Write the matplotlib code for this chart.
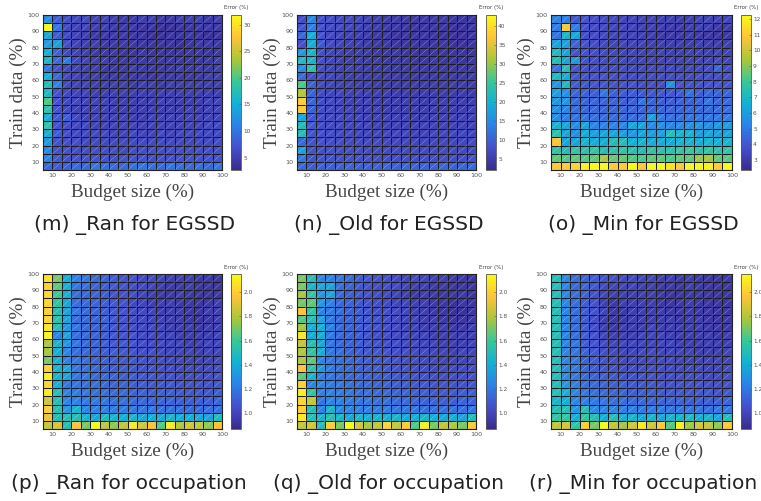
import numpy as np
import matplotlib
matplotlib.use("Agg")
import matplotlib.pyplot as plt
from matplotlib.colors import LinearSegmentedColormap, Normalize
from matplotlib.collections import LineCollection

# cell edges, in percent
budget_edges = np.arange(5, 101, 5)
train_edges = np.arange(5, 101, 5)
tick_vals = [10, 20, 30, 40, 50, 60, 70, 80, 90, 100]

# error (%) grids, rows listed from train 95-100 (top) down to 5-10 (bottom)
err_m = [
    [12, 8, 6.5, 6, 6, 5.5, 5.5, 5, 4.5, 4.5, 5, 5, 4.5, 4.5, 5, 5, 5, 4.5, 5],
    [31.8, 10, 6, 5.5, 5.5, 5, 5, 4.5, 4.5, 4.5, 4, 4, 3.5, 3.5, 4, 4, 4.5, 4.5, 4.5],
    [14, 8, 6, 5.5, 5, 4.5, 4.5, 4.5, 4.5, 4, 4, 3.5, 3.5, 4, 4, 4.5, 4, 3.5, 4],
    [13.5, 13.8, 6.5, 5.5, 5, 5, 4.5, 4.5, 4.5, 4.5, 4, 4, 4, 4, 3.5, 4, 4.5, 4.5, 4.5],
    [15, 8.5, 6, 5.5, 5, 4.5, 4.5, 4.5, 4, 4, 4.5, 4, 4, 4, 4, 4.5, 4.5, 4, 4.5],
    [16, 9, 10.5, 6, 5.5, 5, 5, 4.5, 4.5, 4.5, 4.5, 4.5, 4.5, 4.5, 4.5, 4.5, 4.5, 4.5, 5],
    [10, 7, 6, 5.5, 5, 5, 4.5, 4.5, 4.5, 5, 4.5, 4.5, 4.5, 4.5, 5, 4.5, 5, 4.5, 5],
    [15.2, 9, 6, 5.5, 5, 5, 4.5, 4.5, 4.5, 4.5, 4.5, 4, 4.5, 4.5, 4.5, 4.5, 4.5, 5, 5],
    [17, 11, 6, 5.5, 5.5, 5, 5, 5, 5, 4.5, 5, 5, 4.5, 5, 5, 5, 5, 5, 5],
    [16.5, 7, 6, 5.5, 5.5, 5, 5, 5, 5, 5, 5, 5, 5, 5, 5, 5, 5, 5, 5],
    [20, 7, 6, 6, 5.5, 5.5, 5.5, 5, 5, 5, 5, 5, 5.5, 5, 5, 5, 5, 5.5, 5.5],
    [18, 7, 6, 5.5, 5.5, 5.5, 5.5, 5, 5, 5, 5, 5, 5, 5, 5, 5.5, 5, 5.5, 5.5],
    [15, 7.5, 8, 6, 5.5, 5.5, 5.5, 5.5, 5.5, 5, 5, 5.5, 5.5, 5.5, 5.5, 5.5, 5.5, 5.5, 5.5],
    [18.5, 7, 6.5, 6, 6, 5.5, 5.5, 5.5, 5.5, 5.5, 5.5, 5.5, 5.5, 5.5, 5.5, 5.5, 5.5, 6, 6],
    [15, 8, 6.5, 6, 6, 6, 6, 5.5, 5.5, 6, 5.5, 5.5, 6, 5.5, 6, 6, 6, 6, 6],
    [13, 7, 6.5, 6.5, 6, 6, 6, 6, 6, 6, 6, 6, 6, 6, 6, 6, 6, 6, 6.5],
    [11.5, 7, 7, 6.5, 6.5, 6.5, 6.5, 6.5, 6, 6.5, 6.5, 6.5, 6.5, 6.5, 6.5, 6.5, 6.5, 6.5, 6.5],
    [11.5, 7.5, 7, 7, 7, 7, 7, 6.5, 7, 7, 7, 6.5, 7, 7, 7, 7, 7, 7, 7],
    [9, 8, 8.5, 9, 9, 10, 9.5, 9, 9, 9.5, 10, 9.5, 9, 10, 9.5, 9, 9.5, 9, 10],
]

err_n = [
    [7.5, 14.5, 8, 7.5, 7, 7, 6.5, 6, 5.5, 5, 5, 4.5, 4.5, 4.5, 4.5, 4.5, 4, 4, 4],
    [8.5, 13.5, 8, 7, 7, 6.5, 6, 5.5, 5, 4.5, 4.5, 4, 4, 4, 4, 4, 3.5, 3.5, 4],
    [10.5, 19.5, 8.5, 7, 6.5, 6, 5.5, 5, 4.5, 4.5, 4, 4, 4, 4, 4, 3.5, 3.5, 3.5, 4],
    [8, 19, 9, 7, 6.5, 6, 5.5, 5, 4.5, 4.5, 4, 4, 4, 4, 4, 4, 3.5, 3.5, 4],
    [16.5, 20.5, 8, 6.5, 6, 5.5, 5.5, 5, 4.5, 4.5, 4.5, 4, 4, 4, 4, 4, 4, 4, 4],
    [21.5, 20.5, 8, 6.5, 6, 5.5, 5.5, 5, 5, 4.5, 4.5, 4.5, 4, 4, 4.5, 4, 4, 4, 4.5],
    [15.5, 23.5, 7.5, 6.5, 6, 6, 5.5, 5, 5, 5, 4.5, 4.5, 4.5, 4.5, 4.5, 4.5, 4.5, 4.5, 4.5],
    [11, 8, 7, 6.5, 6, 5.5, 5.5, 5, 5, 5, 5, 4.5, 4.5, 4.5, 4.5, 4.5, 4.5, 4.5, 5],
    [26.5, 10, 7, 6.5, 6, 6, 5.5, 5.5, 5, 5, 5, 5, 5, 5, 5, 5, 5, 5, 5],
    [31.5, 10, 7, 6.5, 6.5, 6, 6, 5.5, 5.5, 5.5, 5, 5, 5, 5, 5, 5, 5, 5, 5],
    [38, 10.5, 7.5, 7, 6.5, 6, 6, 6, 5.5, 5.5, 5.5, 5.5, 5.5, 5, 5.5, 5.5, 5.5, 5.5, 5.5],
    [37.5, 10, 7.5, 7, 6.5, 6.5, 6, 6, 6, 5.5, 5.5, 5.5, 5.5, 5.5, 5.5, 5.5, 5.5, 5.5, 6],
    [18.5, 9, 7.5, 7, 7, 6.5, 6.5, 6, 6, 6, 6, 6, 5.5, 5.5, 6, 6, 6, 6, 6],
    [22.5, 9, 7.5, 7, 7, 6.5, 6.5, 6.5, 6, 6, 6, 6, 6, 6, 6, 6, 6, 6, 6],
    [22.5, 8.5, 8, 7.5, 7, 7, 6.5, 6.5, 6.5, 6.5, 6.5, 6.5, 6, 6, 6.5, 6.5, 6.5, 6.5, 6.5],
    [11, 8.5, 8, 7.5, 7.5, 7, 7, 7, 7, 6.5, 6.5, 6.5, 6.5, 6.5, 6.5, 6.5, 6.5, 6.5, 7],
    [17.5, 8.5, 8, 8, 7.5, 7.5, 7.5, 7, 7, 7, 7, 7, 7, 7, 7, 7, 7, 7, 7],
    [12.5, 8.5, 8.5, 8.5, 8, 8, 8, 8, 7.5, 7.5, 7.5, 7.5, 7.5, 7.5, 7.5, 7.5, 7.5, 7.5, 8],
    [10.5, 9.5, 10, 10, 10, 10.5, 10, 10, 10, 10.5, 10, 10.5, 10, 10.5, 10, 10.5, 10, 10.5, 11],
]

err_o = [
    [5.3, 5.1, 4.0, 3.9, 3.7, 3.6, 3.5, 3.4, 3.4, 3.3, 3.3, 3.2, 3.2, 3.1, 3.2, 3.3, 3.3, 3.3, 3.4],
    [5.1, 10.9, 5.1, 3.8, 3.6, 3.5, 3.4, 3.4, 3.3, 3.2, 3.2, 3.1, 3.0, 3.0, 3.1, 3.2, 3.1, 2.9, 3.0],
    [4.8, 6.8, 6.3, 3.7, 3.6, 3.5, 3.4, 3.3, 3.3, 3.2, 3.1, 3.0, 3.0, 3.0, 3.1, 3.0, 2.9, 2.8, 2.9],
    [6.3, 6.1, 4.3, 3.8, 3.6, 3.5, 3.4, 3.4, 3.3, 3.3, 3.2, 3.2, 3.1, 3.1, 3.1, 3.2, 3.1, 3.1, 3.2],
    [7.1, 6.3, 3.9, 3.8, 3.7, 3.6, 3.5, 3.4, 3.4, 3.3, 3.3, 3.3, 3.2, 3.2, 3.3, 3.3, 3.2, 3.3, 3.3],
    [7.3, 6.3, 5.8, 3.9, 3.7, 3.6, 3.6, 3.5, 3.4, 3.4, 3.4, 3.3, 3.3, 3.3, 3.4, 3.4, 3.4, 3.5, 3.4],
    [4.8, 7.3, 3.9, 3.8, 3.7, 3.7, 3.6, 3.6, 3.5, 3.5, 3.5, 3.5, 3.5, 3.4, 3.5, 3.5, 3.6, 4.3, 3.6],
    [7.1, 6.5, 4.0, 3.9, 3.8, 3.8, 3.7, 3.7, 3.6, 3.6, 3.6, 3.6, 3.6, 3.6, 3.6, 3.7, 3.7, 3.7, 3.8],
    [5.8, 7.0, 4.1, 4.0, 3.9, 3.9, 3.8, 3.8, 3.8, 3.7, 3.7, 3.7, 5.6, 3.8, 3.8, 3.8, 3.9, 3.9, 3.9],
    [6.1, 5.6, 4.4, 4.3, 4.2, 4.8, 4.2, 4.1, 4.1, 4.0, 4.0, 4.0, 4.0, 4.1, 4.7, 4.2, 4.4, 4.3, 4.3],
    [5.8, 5.8, 4.5, 4.4, 4.4, 4.3, 4.3, 4.2, 4.2, 4.8, 4.3, 4.2, 4.2, 4.3, 4.3, 4.4, 4.8, 4.4, 4.5],
    [5.6, 5.3, 4.6, 4.5, 4.5, 4.4, 4.4, 4.4, 4.4, 4.3, 4.4, 4.4, 4.4, 4.4, 4.5, 4.5, 4.5, 4.6, 4.6],
    [5.5, 5.1, 4.8, 4.8, 4.7, 4.6, 4.6, 4.6, 4.6, 4.7, 6.1, 5.0, 4.7, 4.7, 4.8, 4.8, 4.9, 4.9, 5.0],
    [6.8, 6.3, 5.5, 6.3, 5.3, 5.2, 5.2, 5.3, 6.3, 6.3, 5.4, 5.6, 5.3, 5.4, 5.6, 5.8, 5.6, 5.8, 6.0],
    [7.5, 6.3, 5.6, 6.5, 6.1, 6.3, 6.3, 6.0, 5.8, 6.3, 6.0, 6.1, 7.3, 6.8, 6.8, 6.0, 6.3, 6.1, 6.3],
    [10.8, 6.3, 6.3, 6.8, 6.5, 6.5, 7.3, 7.3, 6.6, 6.8, 6.5, 6.5, 6.5, 6.8, 6.8, 6.6, 6.8, 6.6, 6.8],
    [7.8, 7.3, 7.8, 7.6, 7.8, 7.3, 7.6, 7.8, 7.6, 7.3, 7.8, 7.6, 7.6, 7.8, 8.0, 7.6, 7.8, 7.6, 7.8],
    [8.5, 8.3, 8.5, 8.3, 8.5, 9.4, 8.6, 8.5, 8.3, 8.2, 8.5, 8.4, 8.2, 8.5, 8.5, 9.2, 9.3, 8.5, 8.4],
    [11.0, 11.0, 11.2, 12.0, 12.2, 12.2, 11.0, 11.0, 12.2, 10.9, 12.2, 12.2, 11.6, 10.9, 12.2, 12.2, 12.0, 11.0, 12.2],
]

err_p = [
    [2.06, 1.70, 1.41, 1.23, 1.19, 1.15, 1.13, 1.10, 1.06, 1.06, 1.02, 1.02, 1.00, 0.97, 0.97, 0.97, 0.95, 0.95, 0.93],
    [2.00, 1.66, 1.41, 1.19, 1.17, 1.13, 1.10, 1.08, 1.06, 1.04, 1.02, 1.00, 0.97, 0.95, 0.95, 0.97, 0.93, 0.93, 0.93],
    [2.02, 1.61, 1.41, 1.17, 1.15, 1.13, 1.10, 1.06, 1.06, 1.04, 1.00, 0.97, 0.95, 0.95, 0.97, 0.95, 0.93, 0.93, 0.95],
    [2.02, 1.57, 1.38, 1.17, 1.15, 1.13, 1.10, 1.08, 1.06, 1.02, 1.00, 0.97, 0.97, 0.97, 0.95, 0.95, 0.93, 0.95, 0.97],
    [2.00, 1.51, 1.36, 1.19, 1.15, 1.13, 1.10, 1.08, 1.06, 1.04, 1.02, 1.00, 0.97, 0.97, 0.97, 0.95, 0.93, 0.97, 0.97],
    [2.02, 1.54, 1.36, 1.17, 1.15, 1.13, 1.13, 1.08, 1.06, 1.04, 1.02, 1.00, 1.00, 0.97, 0.97, 0.95, 0.93, 0.95, 0.97],
    [2.09, 1.51, 1.32, 1.19, 1.15, 1.13, 1.10, 1.08, 1.06, 1.04, 1.02, 1.02, 1.00, 0.97, 0.97, 0.97, 0.95, 0.97, 0.97],
    [2.13, 1.25, 1.36, 1.17, 1.15, 1.13, 1.10, 1.08, 1.06, 1.06, 1.02, 1.02, 1.00, 1.00, 0.97, 0.97, 0.97, 0.97, 1.00],
    [1.79, 1.45, 1.32, 1.19, 1.15, 1.13, 1.10, 1.08, 1.08, 1.06, 1.04, 1.02, 1.02, 1.00, 1.00, 0.97, 0.97, 1.00, 1.00],
    [1.77, 1.41, 1.25, 1.17, 1.15, 1.13, 1.10, 1.10, 1.08, 1.06, 1.04, 1.04, 1.02, 1.00, 1.00, 1.00, 0.97, 1.00, 1.00],
    [1.70, 1.41, 1.23, 1.19, 1.17, 1.13, 1.13, 1.10, 1.08, 1.08, 1.06, 1.04, 1.04, 1.02, 1.02, 1.00, 1.00, 1.00, 1.02],
    [2.00, 1.45, 1.38, 1.19, 1.17, 1.15, 1.13, 1.10, 1.10, 1.08, 1.06, 1.06, 1.04, 1.04, 1.02, 1.02, 1.02, 1.02, 1.04],
    [2.11, 1.45, 1.36, 1.19, 1.19, 1.15, 1.15, 1.13, 1.10, 1.10, 1.08, 1.08, 1.06, 1.06, 1.04, 1.04, 1.04, 1.04, 1.06],
    [2.02, 1.41, 1.19, 1.19, 1.17, 1.17, 1.15, 1.13, 1.13, 1.10, 1.10, 1.08, 1.08, 1.08, 1.06, 1.06, 1.06, 1.06, 1.08],
    [2.09, 1.51, 1.23, 1.21, 1.19, 1.17, 1.17, 1.15, 1.15, 1.13, 1.13, 1.10, 1.10, 1.10, 1.08, 1.08, 1.08, 1.08, 1.10],
    [1.87, 1.51, 1.25, 1.23, 1.21, 1.19, 1.19, 1.17, 1.17, 1.15, 1.15, 1.13, 1.13, 1.13, 1.10, 1.10, 1.10, 1.10, 1.13],
    [2.00, 1.51, 1.32, 1.45, 1.25, 1.23, 1.23, 1.21, 1.21, 1.19, 1.19, 1.19, 1.17, 1.17, 1.17, 1.15, 1.15, 1.17, 1.17],
    [1.93, 1.51, 1.51, 1.51, 1.45, 1.38, 1.48, 1.45, 1.41, 1.45, 1.38, 1.41, 1.38, 1.45, 1.41, 1.41, 1.38, 1.36, 1.50],
    [1.83, 1.87, 1.51, 1.96, 1.70, 2.15, 1.83, 1.74, 1.83, 2.09, 1.87, 1.96, 1.64, 2.09, 1.79, 1.87, 1.83, 1.74, 1.96],
]

err_q = [
    [1.70, 1.51, 1.25, 1.23, 1.19, 1.15, 1.10, 1.08, 1.06, 1.04, 1.02, 1.00, 1.02, 1.00, 0.97, 0.97, 0.95, 0.95, 0.93],
    [1.70, 1.45, 1.38, 1.36, 1.17, 1.13, 1.08, 1.06, 1.04, 1.04, 1.02, 1.00, 0.97, 0.97, 0.95, 0.95, 0.93, 0.93, 0.93],
    [1.77, 1.57, 1.32, 1.36, 1.15, 1.10, 1.08, 1.06, 1.04, 1.02, 1.00, 0.97, 0.95, 0.97, 0.95, 0.93, 0.93, 0.95, 0.93],
    [1.70, 1.66, 1.32, 1.23, 1.15, 1.13, 1.08, 1.06, 1.04, 1.02, 1.00, 1.00, 0.97, 0.97, 0.95, 0.93, 0.91, 0.93, 0.93],
    [1.96, 1.57, 1.25, 1.21, 1.17, 1.13, 1.10, 1.06, 1.04, 1.04, 1.02, 1.00, 0.97, 0.97, 0.95, 0.93, 0.91, 0.91, 0.93],
    [1.64, 1.51, 1.36, 1.21, 1.15, 1.13, 1.10, 1.08, 1.06, 1.04, 1.02, 1.00, 1.00, 0.97, 0.97, 0.95, 0.93, 0.93, 0.95],
    [1.77, 1.41, 1.41, 1.23, 1.15, 1.13, 1.10, 1.08, 1.06, 1.04, 1.02, 1.00, 1.00, 0.97, 0.97, 0.97, 0.95, 0.95, 0.97],
    [2.09, 1.41, 1.41, 1.21, 1.15, 1.13, 1.10, 1.06, 1.04, 1.04, 1.02, 1.02, 1.00, 1.00, 0.97, 0.97, 0.97, 0.97, 0.97],
    [1.83, 1.51, 1.38, 1.19, 1.15, 1.13, 1.10, 1.08, 1.06, 1.04, 1.04, 1.02, 1.02, 1.00, 1.00, 0.97, 0.97, 0.97, 1.00],
    [1.79, 1.57, 1.41, 1.19, 1.17, 1.13, 1.10, 1.08, 1.08, 1.06, 1.04, 1.04, 1.02, 1.02, 1.00, 1.00, 0.97, 1.00, 1.00],
    [1.79, 1.66, 1.25, 1.19, 1.17, 1.15, 1.13, 1.10, 1.08, 1.08, 1.06, 1.04, 1.04, 1.02, 1.02, 1.00, 1.00, 1.00, 1.02],
    [1.96, 1.57, 1.32, 1.21, 1.17, 1.15, 1.13, 1.10, 1.10, 1.08, 1.06, 1.06, 1.04, 1.04, 1.02, 1.02, 1.02, 1.02, 1.04],
    [1.66, 1.45, 1.23, 1.19, 1.17, 1.15, 1.15, 1.13, 1.10, 1.10, 1.08, 1.08, 1.06, 1.06, 1.04, 1.04, 1.04, 1.04, 1.06],
    [2.00, 1.25, 1.25, 1.21, 1.19, 1.17, 1.15, 1.15, 1.13, 1.13, 1.10, 1.10, 1.08, 1.08, 1.06, 1.06, 1.06, 1.06, 1.08],
    [2.11, 1.57, 1.23, 1.23, 1.21, 1.19, 1.17, 1.17, 1.15, 1.15, 1.13, 1.13, 1.10, 1.10, 1.08, 1.08, 1.08, 1.10, 1.10],
    [2.02, 1.83, 1.19, 1.25, 1.23, 1.21, 1.19, 1.19, 1.17, 1.17, 1.15, 1.15, 1.13, 1.13, 1.13, 1.10, 1.10, 1.13, 1.13],
    [2.00, 1.51, 1.25, 1.45, 1.27, 1.25, 1.23, 1.23, 1.21, 1.21, 1.19, 1.19, 1.19, 1.17, 1.17, 1.17, 1.17, 1.17, 1.19],
    [2.09, 1.51, 1.45, 1.51, 1.45, 1.38, 1.45, 1.41, 1.45, 1.41, 1.45, 1.38, 1.41, 1.45, 1.41, 1.38, 1.41, 1.36, 1.51],
    [1.83, 1.87, 1.51, 2.00, 1.70, 2.15, 1.87, 1.77, 1.83, 2.02, 1.83, 1.98, 1.64, 2.11, 1.70, 1.83, 1.79, 1.70, 1.98],
]

err_r = [
    [1.51, 1.25, 1.17, 1.13, 1.10, 1.06, 1.04, 1.02, 1.02, 1.00, 1.00, 0.97, 0.97, 0.95, 0.97, 0.95, 0.93, 0.93, 0.95],
    [1.51, 1.25, 1.15, 1.13, 1.08, 1.02, 1.00, 1.00, 1.00, 0.97, 0.97, 0.95, 0.95, 0.93, 0.97, 0.95, 0.93, 0.93, 0.93],
    [1.51, 1.25, 1.17, 1.13, 1.06, 1.00, 0.97, 0.97, 0.97, 0.97, 0.97, 0.95, 0.93, 0.93, 0.95, 0.95, 0.93, 0.93, 0.93],
    [1.51, 1.25, 1.17, 1.10, 1.06, 0.97, 0.95, 0.97, 0.97, 0.97, 0.97, 0.95, 0.93, 0.95, 0.97, 0.95, 0.93, 0.93, 0.93],
    [1.51, 1.25, 1.17, 1.10, 1.06, 1.00, 0.95, 0.95, 0.97, 0.97, 0.97, 0.97, 0.95, 0.95, 0.97, 0.95, 0.95, 0.93, 0.93],
    [1.51, 1.25, 1.17, 1.10, 1.04, 0.97, 0.95, 0.95, 0.97, 0.97, 0.97, 0.97, 0.97, 0.95, 0.97, 0.97, 0.95, 0.93, 0.95],
    [1.51, 1.25, 1.17, 1.10, 1.04, 0.97, 0.95, 0.97, 0.97, 0.97, 1.00, 0.97, 0.97, 0.97, 0.97, 0.97, 0.95, 0.95, 0.95],
    [1.51, 1.25, 1.17, 1.10, 1.06, 1.00, 0.97, 0.97, 0.97, 1.00, 1.00, 1.00, 0.97, 0.97, 0.97, 0.97, 0.97, 0.95, 0.97],
    [1.51, 1.25, 1.19, 1.10, 1.06, 1.02, 1.00, 1.00, 1.00, 1.00, 1.00, 1.00, 1.00, 0.97, 0.97, 0.97, 0.97, 0.97, 0.97],
    [1.51, 1.25, 1.19, 1.13, 1.08, 1.04, 1.02, 1.00, 1.00, 1.02, 1.02, 1.00, 1.00, 1.00, 1.00, 0.97, 0.97, 0.97, 1.00],
    [1.51, 1.25, 1.21, 1.13, 1.10, 1.06, 1.04, 1.02, 1.02, 1.02, 1.02, 1.02, 1.02, 1.00, 1.00, 1.00, 1.00, 1.00, 1.00],
    [1.51, 1.27, 1.21, 1.15, 1.10, 1.08, 1.06, 1.04, 1.04, 1.04, 1.04, 1.04, 1.02, 1.02, 1.02, 1.02, 1.00, 1.00, 1.02],
    [1.51, 1.27, 1.21, 1.15, 1.13, 1.10, 1.08, 1.06, 1.06, 1.06, 1.06, 1.04, 1.04, 1.04, 1.04, 1.04, 1.02, 1.02, 1.04],
    [1.51, 1.32, 1.23, 1.17, 1.15, 1.13, 1.10, 1.10, 1.08, 1.08, 1.08, 1.06, 1.06, 1.06, 1.06, 1.06, 1.04, 1.04, 1.06],
    [1.51, 1.41, 1.25, 1.19, 1.17, 1.15, 1.13, 1.13, 1.10, 1.10, 1.10, 1.08, 1.08, 1.08, 1.08, 1.08, 1.08, 1.06, 1.08],
    [1.45, 1.41, 1.25, 1.23, 1.21, 1.19, 1.17, 1.17, 1.15, 1.15, 1.13, 1.13, 1.13, 1.13, 1.10, 1.10, 1.10, 1.10, 1.13],
    [1.51, 1.51, 1.32, 1.51, 1.27, 1.25, 1.25, 1.23, 1.23, 1.21, 1.21, 1.21, 1.19, 1.19, 1.19, 1.19, 1.17, 1.19, 1.19],
    [1.57, 1.57, 1.41, 1.57, 1.51, 1.41, 1.51, 1.41, 1.45, 1.38, 1.45, 1.36, 1.45, 1.45, 1.48, 1.41, 1.45, 1.36, 1.51],
    [1.83, 1.87, 1.57, 2.00, 1.70, 2.15, 1.83, 1.77, 1.87, 2.09, 1.87, 1.98, 1.64, 2.11, 1.77, 1.87, 1.83, 1.74, 1.98],
]

color_limits = {
    "m": (2.7, 31.8), "n": (2.2, 42.9), "o": (2.36, 12.25),
    "p": (0.87, 2.15), "q": (0.87, 2.15), "r": (0.87, 2.15),
}
cbar_ticks = {
    "m": [5, 10, 15, 20, 25, 30],
    "n": [5, 10, 15, 20, 25, 30, 35, 40],
    "o": [3, 4, 5, 6, 7, 8, 9, 10, 11, 12],
    "p": [1, 1.2, 1.4, 1.6, 1.8, 2],
    "q": [1, 1.2, 1.4, 1.6, 1.8, 2],
    "r": [1, 1.2, 1.4, 1.6, 1.8, 2],
}
captions = {
    "m": "(m) _Ran for EGSSD", "n": "(n) _Old for EGSSD", "o": "(o) _Min for EGSSD",
    "p": "(p) _Ran for occupation", "q": "(q) _Old for occupation",
    "r": "(r) _Min for occupation",
}
panels = [("m", err_m), ("n", err_n), ("o", err_o),
          ("p", err_p), ("q", err_q), ("r", err_r)]

# parula-like map, the blue end toned down a little
parula = LinearSegmentedColormap.from_list("parula", [
    (0.22, 0.17, 0.55), (0.27, 0.31, 0.80),
    (0.17, 0.51, 0.91), (0.0689, 0.6948, 0.8394),
    (0.2161, 0.7843, 0.5923), (0.6720, 0.7793, 0.2227),
    (0.9970, 0.7659, 0.2199), (0.9769, 0.9839, 0.0805)])

W, H = 761, 501
fig = plt.figure(figsize=(W / 100, H / 100), dpi=100)

col_x = [(43, 222), (297, 476), (551, 732)]
cbar_x = [(231, 241), (486, 496), (741, 751)]
row_y = [(15, 170), (274, 429)]
caption_shift = {"p": -6}


def px_rect(x0, x1, y0, y1):
    return [x0 / W, 1 - y1 / H, (x1 - x0) / W, (y1 - y0) / H]


serif = "Liberation Serif"
for i, (key, data) in enumerate(panels):
    r, c = divmod(i, 3)
    x0, x1 = col_x[c]
    y0, y1 = row_y[r]
    ax = fig.add_axes(px_rect(x0, x1, y0, y1))
    z = np.flipud(np.array(data))
    lo, hi = color_limits[key]
    mesh = ax.pcolormesh(budget_edges, train_edges, z, cmap=parula,
                         norm=Normalize(lo, hi), edgecolors="#1c1c24",
                         linewidth=0.55)
    # pale diagonal seams through every cell
    segs = [[(bx, ty), (bx + 5, ty + 5)]
            for bx in budget_edges[:-1] for ty in train_edges[:-1]]
    ax.add_collection(LineCollection(segs, colors="#e8ecff", alpha=0.55,
                                     linewidths=0.45, linestyles=(0, (1.5, 1))))
    ax.set_xlim(5, 100)
    ax.set_ylim(5, 100)
    ax.set_xticks(tick_vals)
    ax.set_yticks(tick_vals)
    ax.tick_params(length=0, labelsize=4.6, labelcolor="#555555", pad=2.5)
    for s in ax.spines.values():
        s.set_color("#222222")
        s.set_linewidth(0.8)

    cx = (x0 + x1) / 2
    fig.text((x0 - 25) / W, 1 - ((y0 + y1) / 2) / H, "Train data (%)",
             rotation=90, ha="center", va="center", family=serif,
             fontsize=13.8, color="#444444")
    fig.text(cx / W, 1 - (y1 + 22) / H, "Budget size (%)", ha="center",
             va="center", family=serif, fontsize=13.8, color="#444444")
    fig.text((cx + 2 + caption_shift.get(key, 0)) / W, 1 - (y1 + 55) / H,
             captions[key], ha="center", va="center", family="DejaVu Sans",
             fontsize=14.5, color="#222222")

    bx0, bx1 = cbar_x[c]
    cax = fig.add_axes(px_rect(bx0, bx1, y0, y1))
    cb = fig.colorbar(mesh, cax=cax, ticks=cbar_ticks[key])
    cb.outline.set_edgecolor("#555555")
    cb.outline.set_linewidth(0.6)
    cax.tick_params(length=1.5, width=0.4, direction="in", labelsize=4.2,
                    labelcolor="#555555", pad=1.5, color="#555555")
    fig.text(((bx0 + bx1) / 2) / W, 1 - (y0 - 7) / H, "Error (%)",
             ha="center", va="center", fontsize=4, color="#444444")

fig.savefig("out.png", dpi=100)
